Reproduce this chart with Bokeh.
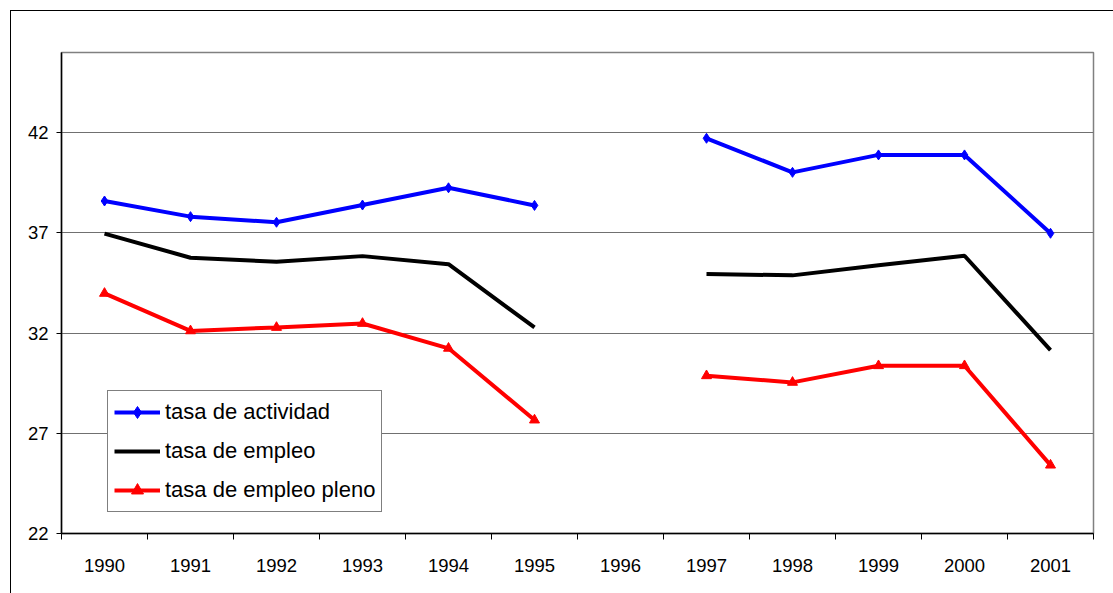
import numpy as np
from bokeh.plotting import figure
from bokeh.models import FixedTicker, Legend, LegendItem, ColumnDataSource, InlineStyleSheet
from bokeh.embed import file_html
from bokeh.resources import INLINE

years = ["1990", "1991", "1992", "1993", "1994", "1995", "1996",
         "1997", "1998", "1999", "2000", "2001"]
nan = float("nan")
tasa_actividad = [38.59, 37.81, 37.53, 38.39, 39.25, 38.37, nan,
                  41.72, 40.02, 40.89, 40.89, 36.98]
tasa_empleo = [36.96, 35.76, 35.56, 35.84, 35.44, 32.28, nan,
               34.95, 34.88, 35.38, 35.86, 31.15]
tasa_empleo_pleno = [33.98, 32.11, 32.28, 32.48, 31.24, 27.66, nan,
                     29.87, 29.54, 30.37, 30.37, 25.41]
y_ticks = [22, 27, 32, 37, 42]

xs = list(range(len(years)))
src = ColumnDataSource(dict(
    x=xs,
    act=np.array(tasa_actividad, dtype=float),
    emp=np.array(tasa_empleo, dtype=float),
    ple=np.array(tasa_empleo_pleno, dtype=float),
))

FONT = "Liberation Sans"

p = figure(width=1105, height=585, x_range=(-0.5, len(years) - 0.5), y_range=(22, 46),
           output_backend="svg", toolbar_location=None,
           min_border_left=61, min_border_top=52, min_border_right=12, min_border_bottom=52)
# outer chart border (runs past the right and bottom edges of the window)
p.stylesheets = [InlineStyleSheet(css="""
:host::after {
  content: "";
  position: absolute;
  left: 10px;
  top: 10px;
  width: 3000px;
  height: 3000px;
  border: 1.5px solid black;
  z-index: 1000;
  pointer-events: none;
}
""")]
p.background_fill_color = "white"
p.border_fill_color = "white"
p.outline_line_color = "#808080"
p.outline_line_width = 1.5

# x axis: labels at category centres, ticks at category boundaries
p.xaxis.ticker = FixedTicker(ticks=xs, minor_ticks=[i - 0.5 for i in range(len(years) + 1)])
p.xaxis.major_label_overrides = {i: yr for i, yr in enumerate(years)}
p.xaxis.major_tick_line_color = None
p.xaxis.major_tick_out = 0
p.xaxis.major_tick_in = 0
p.xaxis.minor_tick_line_color = "black"
p.xaxis.minor_tick_out = 6
p.xaxis.minor_tick_in = 0
p.xaxis.major_label_standoff = 19
p.xaxis.axis_line_color = "black"
p.xaxis.axis_line_width = 1.5
p.xgrid.visible = False

p.yaxis.ticker = FixedTicker(ticks=y_ticks)
p.yaxis.minor_tick_line_color = None
p.yaxis.major_tick_out = 5
p.yaxis.major_tick_in = 0
p.yaxis.major_label_standoff = 8
p.yaxis.axis_line_color = "black"
p.yaxis.axis_line_width = 1.5
p.ygrid.ticker = FixedTicker(ticks=y_ticks)
p.ygrid.grid_line_color = "#707070"
p.ygrid.grid_line_width = 1.2

for ax in (p.xaxis, p.yaxis):
    ax.major_label_text_font = FONT
    ax.major_label_text_font_size = "18.5px"
    ax.major_label_text_color = "black"

l1 = p.line("x", "act", source=src, line_color="blue", line_width=4)
m1 = p.scatter("x", "act", source=src, marker="diamond", size=10,
               fill_color="blue", line_color="blue")
l2 = p.line("x", "emp", source=src, line_color="black", line_width=4)
l3 = p.line("x", "ple", source=src, line_color="red", line_width=4)
m3 = p.scatter("x", "ple", source=src, marker="triangle", size=10,
               fill_color="red", line_color="red")

legend = Legend(items=[
    LegendItem(label="tasa de actividad", renderers=[l1, m1]),
    LegendItem(label="tasa de empleo", renderers=[l2]),
    LegendItem(label="tasa de empleo pleno", renderers=[l3, m3]),
], location=(46, 21))
legend.margin = 0
legend.padding = 6
legend.spacing = 9
legend.glyph_width = 46
legend.glyph_height = 30
legend.label_height = 30
legend.label_standoff = 5
legend.label_text_font = FONT
legend.label_text_font_size = "22px"
legend.label_text_color = "black"
legend.border_line_color = "black"
legend.border_line_width = 1
legend.background_fill_color = "white"
legend.background_fill_alpha = 1
p.add_layout(legend)

open("out.html", "w").write(file_html(p, INLINE))
